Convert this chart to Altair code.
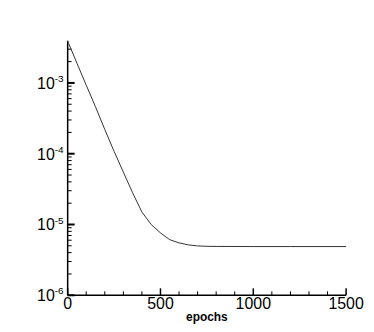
import altair as alt
import pandas as pd

# training loss curve
epochs = [0, 50, 100, 150, 200, 250, 300, 350, 400, 450, 500, 550, 600, 650, 700, 750, 800, 1000, 1200, 1500]
loss = [3.9e-3, 1.9e-3, 9.3e-4, 4.6e-4, 2.2e-4, 1.08e-4, 5.5e-5, 2.8e-5, 1.5e-5, 1.0e-5,
        7.6e-6, 6.1e-6, 5.5e-6, 5.15e-6, 4.98e-6, 4.92e-6, 4.9e-6, 4.88e-6, 4.88e-6, 4.88e-6]

# axis ticks and labels
y_major = [1e-6, 1e-5, 1e-4, 1e-3]
y_base = ["10", "10", "10", "10"]
y_exponents = ["-6", "-5", "-4", "-3"]
y_minor = [2e-6, 3e-6, 4e-6, 5e-6, 6e-6, 7e-6, 8e-6, 9e-6,
           2e-5, 3e-5, 4e-5, 5e-5, 6e-5, 7e-5, 8e-5, 9e-5,
           2e-4, 3e-4, 4e-4, 5e-4, 6e-4, 7e-4, 8e-4, 9e-4,
           2e-3, 3e-3]
x_major = [0, 500, 1000, 1500]
x_labels = ["0", "500", "1000", "1500"]
x_minor = [100, 200, 300, 400, 600, 700, 800, 900, 1100, 1200, 1300, 1400]
x_title = ["epochs"]

W, H = 280, 256
FONT = "Liberation Sans"

xscale = alt.Scale(domain=[0, 1500], nice=False, zero=False)
yscale = alt.Scale(type="log", domain=[1e-6, 3.95e-3], nice=False)

df = pd.DataFrame({"epochs": epochs, "loss": loss})

line = alt.Chart(df).mark_line(color="#333333", strokeWidth=1).encode(
    x=alt.X("epochs:Q", scale=xscale, axis=None),
    y=alt.Y("loss:Q", scale=yscale, axis=None),
)

# axis lines
yline = alt.Chart(pd.DataFrame({"k": [0]})).mark_rule(color="black", strokeWidth=1.5).encode(
    x=alt.value(0), y=alt.value(0), y2=alt.value(H))
xline = alt.Chart(pd.DataFrame({"k": [0]})).mark_rule(color="black", strokeWidth=1.5).encode(
    x=alt.value(0), x2=alt.value(W), y=alt.value(H))

ymaj = alt.Chart(pd.DataFrame({"ym": y_major, "b": y_base, "e": y_exponents}))
ymaj_ticks = ymaj.mark_rule(color="black", strokeWidth=2).encode(
    y=alt.Y("ym:Q", scale=yscale, axis=None), x=alt.value(0), x2=alt.value(7))
ymaj_base = ymaj.mark_text(align="right", baseline="middle", fontSize=16, font=FONT,
                           color="black", dy=1).encode(
    y=alt.Y("ym:Q", scale=yscale, axis=None), x=alt.value(-13), text="b:N")
ymaj_exp = ymaj.mark_text(align="left", baseline="middle", fontSize=10, font=FONT,
                          color="black", dy=-4).encode(
    y=alt.Y("ym:Q", scale=yscale, axis=None), x=alt.value(-13), text="e:N")

ymin_ticks = alt.Chart(pd.DataFrame({"yn": y_minor})).mark_rule(color="black", strokeWidth=1).encode(
    y=alt.Y("yn:Q", scale=yscale, axis=None), x=alt.value(0), x2=alt.value(4))

xmaj = alt.Chart(pd.DataFrame({"xm": x_major, "t": x_labels}))
xmaj_ticks = xmaj.mark_rule(color="black", strokeWidth=1.5).encode(
    x=alt.X("xm:Q", scale=xscale, axis=None), y=alt.value(H), y2=alt.value(H - 7))
xmaj_text = xmaj.mark_text(align="center", baseline="top", fontSize=16, font=FONT,
                           color="black").encode(
    x=alt.X("xm:Q", scale=xscale, axis=None), y=alt.value(H + 1), text="t:N")
xmin_ticks = alt.Chart(pd.DataFrame({"xn": x_minor})).mark_rule(color="black", strokeWidth=1).encode(
    x=alt.X("xn:Q", scale=xscale, axis=None), y=alt.value(H), y2=alt.value(H - 4))

title = alt.Chart(pd.DataFrame({"t": x_title})).mark_text(
    align="center", baseline="middle", fontSize=12, fontWeight="bold", font=FONT, color="black"
).encode(x=alt.value(W / 2), y=alt.value(H + 22), text="t:N")

chart = alt.layer(ymin_ticks, ymaj_ticks, xmin_ticks, xmaj_ticks, yline, xline, line,
                  ymaj_base, ymaj_exp, xmaj_text, title).properties(
    width=W, height=H, autosize="none",
    padding={"left": 60, "top": 32, "right": 20, "bottom": 30},
).configure(font=FONT).configure_view(strokeWidth=0)

chart.save("out.html", embed_options={"renderer": "svg", "actions": False})
